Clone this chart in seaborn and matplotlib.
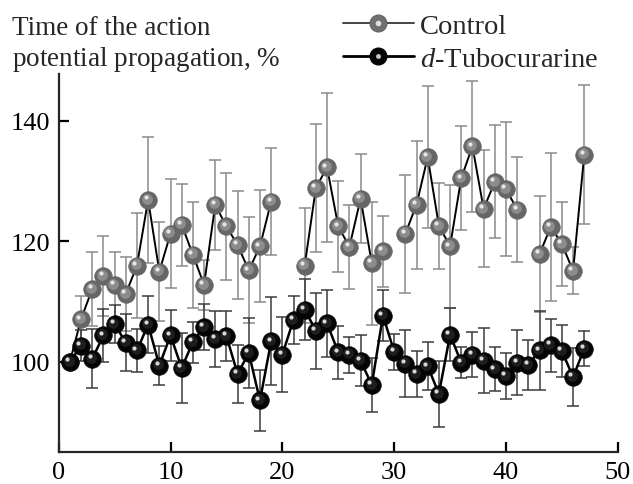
import numpy as np
import pandas as pd
import matplotlib
matplotlib.use("Agg")
import matplotlib.pyplot as plt
import matplotlib.transforms as mtransforms
from matplotlib.lines import Line2D
from matplotlib.legend_handler import HandlerTuple
import seaborn as sns

# recording number
sweep = np.arange(1, 48)

control = [100, 107.1, 112.1, 114.3, 112.8, 111.3, 116.0, 126.9, 115.0, 121.3,
           122.8, 117.8, 112.8, 126.1, 122.5, 119.4, 115.2, 119.2, 126.6, np.nan,
           np.nan, 116.0, 128.9, 132.3, 122.5, 119.1, 127.1, 116.4, 118.4, np.nan,
           121.3, 126.1, 134.0, 122.6, 119.2, 130.5, 135.8, 125.4, 129.9, 128.7,
           125.3, np.nan, 117.9, 122.4, 119.6, 115.1, 134.4]
control_err = [0, 3.8, 6.1, 6.6, 5.5, 6.2, 8.7, 10.4, 8.2, 9.1,
               6.8, 8.8, 4.2, 7.5, 8.9, 9.0, 8.8, 9.3, 8.9, np.nan,
               np.nan, 9.5, 10.6, 12.4, 7.6, 7.0, 7.4, 10.2, 5.9, np.nan,
               9.8, 10.6, 11.8, 7.1, 10.2, 8.6, 10.9, 9.7, 9.4, 11.1,
               8.7, np.nan, 9.6, 12.3, 7.0, 3.9, 11.5]

tubo = [100, 102.7, 100.5, 104.4, 106.3, 103.2, 101.9, 106.2, 99.4, 104.4,
        99.0, 103.3, 105.8, 103.8, 104.3, 98.0, 101.5, 93.6, 103.4, 101.2,
        107.0, 108.7, 105.2, 106.4, 101.6, 101.2, 100.2, 96.2, 107.7, 101.7,
        99.7, 98.0, 99.3, 94.7, 104.5, 99.9, 101.2, 100.2, 98.8, 97.7,
        99.9, 99.5, 101.9, 102.8, 101.8, 97.5, 102.2]
tubo_err = [0, 2.6, 4.9, 4.4, 3.2, 4.7, 3.5, 4.8, 3.2, 4.2,
            5.8, 3.4, 3.8, 4.6, 4.2, 4.8, 5.8, 5.0, 7.3, 6.2,
            4.0, 5.0, 6.3, 5.6, 4.4, 3.0, 4.2, 4.5, 4.3, 3.0,
            5.6, 3.8, 4.0, 5.5, 4.4, 2.5, 3.7, 5.4, 3.6, 3.8,
            5.4, 4.1, 6.6, 4.4, 4.3, 4.8, 2.9]

x_ticks = [0, 10, 20, 30, 40, 50]
y_ticks = [100, 120, 140]

sns.set_style("ticks")
plt.rcParams["font.family"] = ["Liberation Serif", "DejaVu Serif"]
plt.rcParams["mathtext.fontset"] = "custom"
plt.rcParams["mathtext.rm"] = "Liberation Serif"
plt.rcParams["mathtext.it"] = "Liberation Serif:italic"

fig = plt.figure(figsize=(6.33, 4.85), dpi=100)
ax = fig.add_axes([0.0927, 0.0654, 0.8833, 0.7800])


def make_frame(vals, errs):
    df = pd.DataFrame({"x": sweep, "y": vals, "err": errs})
    # separate runs so gaps stay gaps
    df["seg"] = df["y"].isna().cumsum()
    return df


def sphere(df, base, mid, hi, z):
    sns.scatterplot(data=df, x="x", y="y", s=160, color=base, edgecolor=base,
                    linewidth=0.5, ax=ax, zorder=z, legend=False)
    off1 = mtransforms.offset_copy(ax.transData, fig=fig, x=-0.9, y=0.9, units="points")
    off2 = mtransforms.offset_copy(ax.transData, fig=fig, x=-1.9, y=1.9, units="points")
    ax.scatter(df["x"], df["y"], s=60, color=mid, lw=0, transform=off1, zorder=z + 0.1)
    ax.scatter(df["x"], df["y"], s=9, color=hi, lw=0, transform=off2, zorder=z + 0.2)


ctrl = make_frame(control, control_err)
tub = make_frame(tubo, tubo_err)

# control
ax.errorbar(ctrl["x"], ctrl["y"], yerr=ctrl["err"], fmt="none", ecolor="#8a8a8a",
            elinewidth=1.1, capsize=4.5, capthick=1.1, zorder=1)
sns.lineplot(data=ctrl.dropna(), x="x", y="y", units="seg", estimator=None,
             color="black", lw=1.4, ax=ax, zorder=2, legend=False)
sphere(ctrl.dropna(), "#666666", "#8c8c8c", "#e6e6e6", 3)

# d-tubocurarine
ax.errorbar(tub["x"], tub["y"], yerr=tub["err"], fmt="none", ecolor="#3c3c3c",
            elinewidth=1.1, capsize=4.5, capthick=1.1, zorder=4)
sns.lineplot(data=tub, x="x", y="y", units="seg", estimator=None,
             color="black", lw=1.8, ax=ax, zorder=5, legend=False)
sphere(tub, "#050505", "#1e1e1e", "#d8d8d8", 6)

ax.set_xlim(0, 50)
ax.set_ylim(85, 147.8)
ax.set_xticks(x_ticks)
ax.set_yticks(y_ticks)
ax.set_xlabel("")
ax.set_ylabel("")
sns.despine(ax=ax)
for s in ["left", "bottom"]:
    ax.spines[s].set_linewidth(1.6)
ax.tick_params(direction="in", length=7, width=1.6, labelsize=19, colors="black")
ax.tick_params(axis="x", pad=6.5)
ax.tick_params(axis="y", pad=6)

fig.text(0.0185, 1 - 35 / 485, "Time of the action", fontsize=19.5, va="baseline")
fig.text(0.0185, 1 - 66 / 485, r"potential propagation, $\mathit{\%}$", fontsize=19.5,
         va="baseline")

h_ctrl = (Line2D([], [], color="#444444", lw=1.4, marker="o", ms=12,
                 mfc="#707070", mec="#666666"),
          Line2D([], [], ls="none", marker="o", ms=4, color="#e0e0e0", mew=0))
h_tub = (Line2D([], [], color="black", lw=2.0, marker="o", ms=12,
                mfc="#050505", mec="#050505"),
         Line2D([], [], ls="none", marker="o", ms=3.5, color="#c8c8c8", mew=0))
fig.legend([h_ctrl, h_tub], ["Control", r"$\mathit{d}$-Tubocurarine"],
           handler_map={tuple: HandlerTuple(ndivide=1, pad=0)},
           loc="upper left", bbox_to_anchor=(0.51, 1.012), frameon=False,
           fontsize=20.5, handlelength=2.5, handletextpad=0.2, labelspacing=0.25,
           borderaxespad=0.3)

fig.savefig("out.png", dpi=100)
